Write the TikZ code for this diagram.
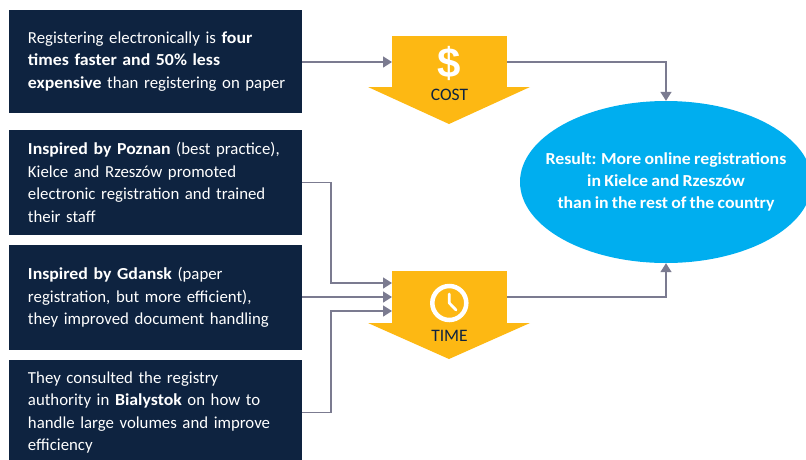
\documentclass[tikz,border=0pt]{standalone}
\usepackage{fontspec}
\setmainfont{Carlito}[WordSpace=0.8,BoldFeatures={FakeStretch=1.06}]
\newfontfamily\dollarfont{Liberation Sans}
\usetikzlibrary{arrows.meta,shapes.geometric}
\definecolor{navybox}{HTML}{0E2340}
\definecolor{goldarrow}{HTML}{FDB813}
\definecolor{greyline}{HTML}{7B7B90}
\definecolor{skyresult}{HTML}{00AEEF}
\tikzset{
  infobox/.style={fill=navybox,text=white,minimum width=293pt,inner sep=0pt,text width=293pt,font=\fontsize{16.8}{22.4}\selectfont,
    execute at begin node={\leftskip=19pt\rightskip=0pt plus 1fil\parfillskip=0pt plus 1fil\hyphenpenalty=10000}},
  goldbody/.style={fill=goldarrow,minimum width=115pt,minimum height=52pt,inner sep=0pt},
  goldlabel/.style={text=navybox,inner sep=0pt,font=\fontsize{17.5}{18}\selectfont},
  link/.style={draw=greyline,line width=1.5pt},
  linkarrow/.style={link,-{Triangle[length=9pt,width=11pt]}}
}
\begin{document}
\begin{tikzpicture}[x=1pt,y=-1pt]
  \useasboundingbox (0,0) rectangle (806,459);
  \clip (0,0) rectangle (806,459);
  \node[infobox,minimum height=103pt] (registering) at (155.5,61.5) {Registering electronically is \textbf{four}\\\textbf{times faster and 50\% less}\\\textbf{expensive} than registering on paper};
  \node[infobox,minimum height=105pt] (poznan) at (155.5,182.5) {\textbf{Inspired by Poznan} (best practice),\\Kielce and Rzeszów promoted\\electronic registration and trained\\their staff};
  \node[infobox,minimum height=105pt] (gdansk) at (155.5,297.5) {\textbf{Inspired by Gdansk} (paper\\registration, but more efficient),\\they improved document handling};
  \node[infobox,minimum height=105pt] (bialystok) at (155.5,412.5) {They consulted the registry\\authority in \textbf{Bialystok} on how to\\handle large volumes and improve\\efficiency};
  \node[goldbody] (costbody) at (449.5,62) {};
  \fill[goldarrow] (368,87) -- (530,87) -- (449,124) -- cycle;
  \node[text=white,inner sep=0pt,font=\fontsize{42}{42}\dollarfont\bfseries\selectfont] (dollar) at (449.5,63) {\$};
  \node[goldlabel] (cost) at (449.5,95) {COST};
  \node[goldbody] (timebody) at (449.5,297) {};
  \fill[goldarrow] (368,323) -- (530,323) -- (449,359) -- cycle;
  \node[circle,draw=white,line width=4.5pt,minimum size=34pt,inner sep=0pt] (clock) at (449.3,303) {};
  \draw[white,line width=2.8pt,line cap=round,line join=round] (449.3,294) -- (449.3,303) -- (456,310);
  \node[goldlabel] (time) at (449.5,336) {TIME};
  \node[ellipse,fill=skyresult,minimum width=292pt,minimum height=162pt,inner sep=0pt] (result) at (666,182) {};
  \node[text=white,inner sep=0pt,align=center,font=\fontsize{16.8}{22.4}\bfseries\selectfont] (resulttext) at (result.center) {Result: More online registrations\\in Kielce and Rzeszów\\than in the rest of the country};
  % connectors
  \coordinate (costin) at (392,62);
  \coordinate (timein1) at (392,283);
  \coordinate (timein2) at (392,297);
  \coordinate (timein3) at (392,311);
  \draw[linkarrow] (registering.east |- costin) -- (costin);
  \draw[linkarrow] (poznan.east) -- (331,182.5) -- (331,283) -- (timein1);
  \draw[linkarrow] (gdansk.east |- timein2) -- (timein2);
  \draw[linkarrow] (bialystok.east) -- (331,412.5) -- (331,311) -- (timein3);
  \draw[linkarrow] (costbody.east) -- (666,62) -- (result.north);
  \draw[linkarrow] (timebody.east) -- (666,297) -- (result.south);
\end{tikzpicture}
\end{document}
